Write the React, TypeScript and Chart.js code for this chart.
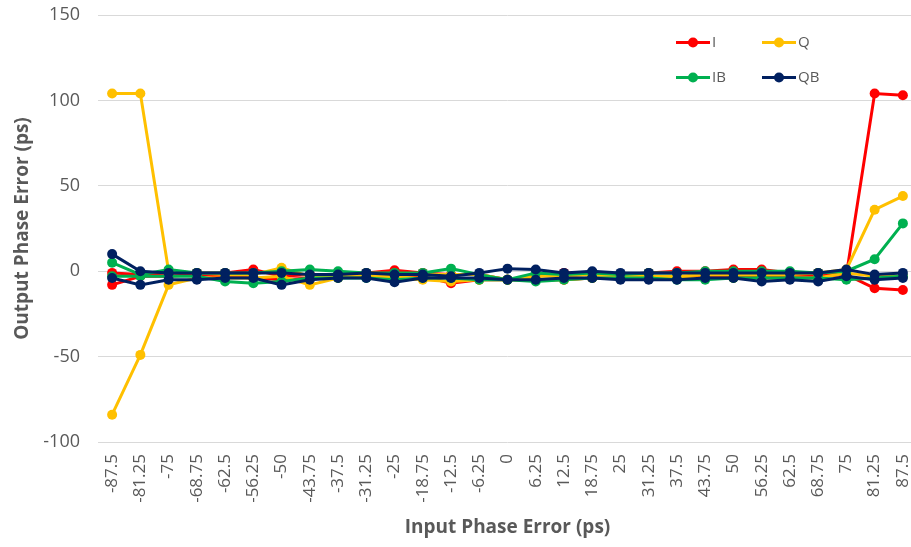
import React, { useEffect, useRef } from "react";
import { Chart, registerables } from "chart.js";

Chart.register(...registerables);

const categories = [
  "-87.5", "-81.25", "-75", "-68.75", "-62.5", "-56.25", "-50", "-43.75", "-37.5", "-31.25",
  "-25", "-18.75", "-12.5", "-6.25", "0", "6.25", "12.5", "18.75", "25", "31.25",
  "37.5", "43.75", "50", "56.25", "62.5", "68.75", "75", "81.25", "87.5",
];

const yTicks = [-100, -50, 0, 50, 100, 150];

const seriesNames = ["I", "Q", "IB", "QB"];
const seriesColors = ["#FF0000", "#FFC000", "#00B050", "#002060"];

const iUpper = [-1, -2, -1, -1, -1, 1, -3, -2, -2, -1, 0.5, -1, -2, -2, -5, -3, -1, -1, -2, -1, 0, 0, 1, 1, -1, -1, -2, 104, 103];
const iLower = [-8, -3, -3, -2, -3, -4, -5, -4, -3, -3, -2, -3, -7, -5, -5, -5, -5, -4, -4, -4, -4, -3, -3, -3, -3, -3, -2, -10, -11];
const qUpper = [104, 104, 0, -1, -2, -2, 2, -3, -3, -2, -3, -2, -2, -2, -5, -3, -3, -2, -3, -3, -3, -2, -2, -2, -2, -1, 1, 36, 44];
const qLower = [-84, -49, -8, -4, -4, -4, -3, -8, -4, -3, -4, -5, -6, -5, -5, -5, -5, -4, -4, -4, -4, -4, -4, -4, -4, -4, -1, -3, -3];
const ibUpper = [5, -2, 1, -1, -1, -1, 0, 1, 0, -1, -1, -1, 1.5, -2, -5, -1, -2, -1, -2, -1, -1, 0, 0, 0, 0, -1, 0, 7, 28];
const ibLower = [-3, -3, -3, -3, -6, -7, -6, -4, -4, -4, -5, -4, -4, -5, -5, -6, -5, -4, -4, -4, -5, -5, -4, -4, -4, -4, -5, -4, -3];
const qbUpper = [10, 0, -1, -1, -1, -1, -1, -2, -2, -1, -2, -2, -3, -1, 1.5, 1, -1, 0, -1, -1, -1, -1, -1, -1, -1, -1, 1, -2, -1];
const qbLower = [-4, -8, -5, -5, -4, -4, -8, -5, -4, -4, -6.5, -4, -4, -4, -5, -5, -4, -4, -5, -5, -5, -4, -4, -6, -5, -6, -3, -5, -4];

const seriesData = [
  [iUpper, iLower],
  [qUpper, qLower],
  [ibUpper, ibLower],
  [qbUpper, qbLower],
];

const FONT = "'Open Sans', 'Noto Sans', sans-serif";
const TEXT = "#595959";

const legendPlugin = {
  id: "customLegend",
  afterDraw(chart: any) {
    const ctx = chart.ctx;
    ctx.save();
    const cols = [676, 762];
    const rows = [42.5, 77.5];
    seriesNames.forEach((name, i) => {
      const x = cols[i % 2];
      const y = rows[Math.floor(i / 2)];
      ctx.strokeStyle = seriesColors[i];
      ctx.fillStyle = seriesColors[i];
      ctx.lineWidth = 3;
      ctx.beginPath();
      ctx.moveTo(x, y);
      ctx.lineTo(x + 34, y);
      ctx.stroke();
      ctx.beginPath();
      ctx.arc(x + 17, y, 5, 0, Math.PI * 2);
      ctx.fill();
      ctx.fillStyle = TEXT;
      ctx.font = `15px ${FONT}`;
      ctx.textBaseline = "middle";
      ctx.textAlign = "left";
      ctx.fillText(name, x + 36, y);
    });
    ctx.restore();
  },
};

export default function App() {
  const ref = useRef<HTMLCanvasElement | null>(null);

  useEffect(() => {
    document.body.style.overflow = "hidden";
    document.documentElement.style.overflow = "hidden";
    if (!ref.current) return;
    const datasets: any[] = [];
    seriesData.forEach((pair, si) => {
      pair.forEach((vals, k) => {
        datasets.push({
          label: seriesNames[si] + (k === 0 ? "" : " "),
          data: vals,
          borderColor: seriesColors[si],
          backgroundColor: seriesColors[si],
          pointBackgroundColor: seriesColors[si],
          pointBorderColor: seriesColors[si],
          borderWidth: 3,
          pointRadius: 5,
          pointBorderWidth: 0,
          tension: 0,
          order: 4 - si,
        });
      });
    });
    const chart = new Chart(ref.current, {
      type: "line",
      data: { labels: categories, datasets },
      options: {
        responsive: false,
        animation: false,
        maintainAspectRatio: false,
        layout: { padding: { top: 15, left: 0, right: 0, bottom: 0 } },
        plugins: {
          legend: { display: false },
          tooltip: { enabled: false },
        },
        scales: {
          x: {
            type: "category",
            offset: true,
            grid: { display: false, drawTicks: false },
            border: { display: false },
            ticks: {
              autoSkip: false,
              minRotation: 90,
              maxRotation: 90,
              padding: 12,
              color: TEXT,
              font: { family: FONT, size: 17 },
            },
            title: {
              display: true,
              text: "Input Phase Error (ps)",
              color: TEXT,
              font: { family: FONT, size: 19, weight: "bold" },
              padding: { top: 4, bottom: 8 },
            },
            afterFit(scale: any) {
              scale.height = 105;
              scale.paddingLeft = 0;
              scale.paddingRight = 0;
            },
          },
          y: {
            min: -100,
            max: 150,
            grid: { color: "#D9D9D9", lineWidth: 1, drawTicks: false },
            border: { display: false },
            afterBuildTicks(scale: any) {
              scale.ticks = yTicks.map((v) => ({ value: v }));
            },
            ticks: {
              padding: 18,
              color: TEXT,
              font: { family: FONT, size: 18 },
            },
            title: {
              display: true,
              text: "Output Phase Error (ps)",
              color: TEXT,
              font: { family: FONT, size: 19, weight: "bold" },
              padding: { top: 11, bottom: 0 },
            },
            afterFit(scale: any) {
              scale.width = 98;
              scale.paddingTop = 0;
              scale.paddingBottom = 0;
            },
          },
        },
      },
      plugins: [legendPlugin],
    });
    return () => chart.destroy();
  }, []);

  return (
    <div style={{ position: "fixed", left: 0, top: 0, width: 922, height: 547, background: "#fff" }}>
      <canvas ref={ref} width={922} height={547} style={{ display: "block" }} />
    </div>
  );
}
